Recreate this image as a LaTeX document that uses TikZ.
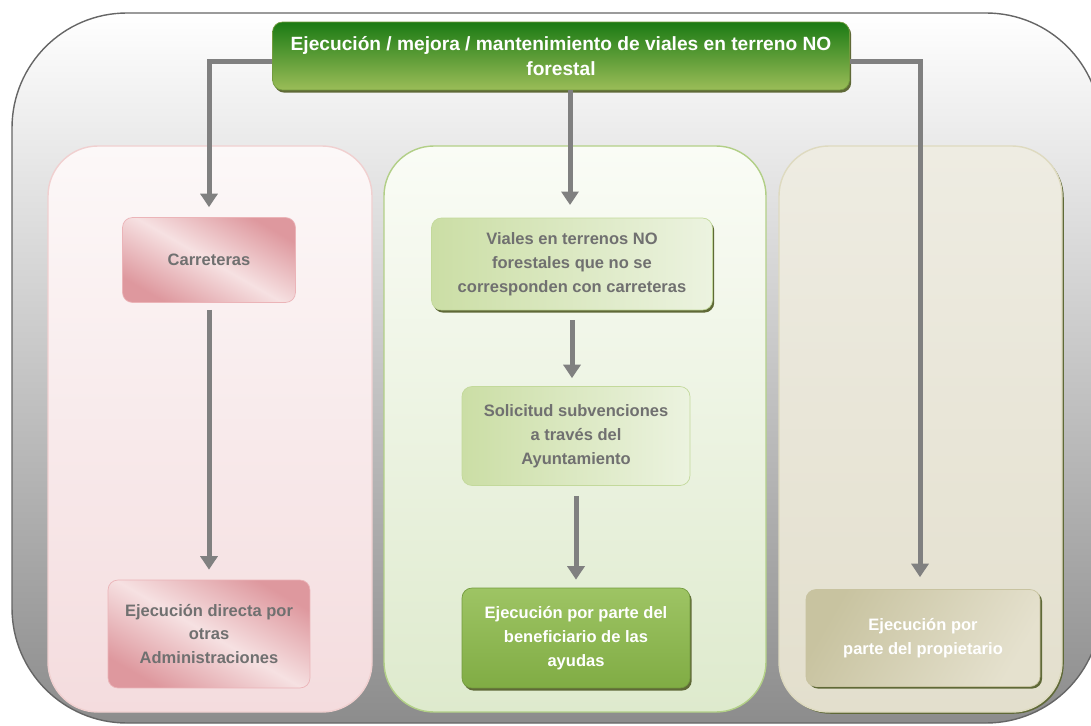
\documentclass[tikz,border=0pt]{standalone}
\usepackage{fontspec}
\setmainfont{Liberation Sans}
\usetikzlibrary{arrows.meta,shadows}

\definecolor{flowgray}{RGB}{128,128,128}
\definecolor{boxtext}{RGB}{112,112,112}
\definecolor{pinkedge}{RGB}{240,208,208}
\definecolor{pinktop}{RGB}{252,248,248}
\definecolor{pinkbot}{RGB}{244,220,222}
\definecolor{pinkdark}{RGB}{222,152,158}
\definecolor{pinklight}{RGB}{246,225,226}
\definecolor{pinkline}{RGB}{235,180,184}
\definecolor{greenedge}{RGB}{178,207,135}
\definecolor{greentop}{RGB}{250,252,246}
\definecolor{greenbot}{RGB}{222,234,205}
\definecolor{greenmid}{RGB}{203,222,165}
\definecolor{greenpale}{RGB}{236,243,224}
\definecolor{greenline}{RGB}{195,217,155}
\definecolor{leafdark}{RGB}{27,122,20}
\definecolor{leaflight}{RGB}{155,189,88}
\definecolor{leafup}{RGB}{158,196,100}
\definecolor{leafdown}{RGB}{128,172,68}
\definecolor{leafline}{RGB}{115,155,62}
\definecolor{beigeedge}{RGB}{222,218,192}
\definecolor{beigetop}{RGB}{238,236,226}
\definecolor{beigebot}{RGB}{227,223,205}
\definecolor{sandlight}{RGB}{229,225,206}
\definecolor{sanddark}{RGB}{200,195,160}
\definecolor{olive}{RGB}{95,105,55}

\begin{document}
\begin{tikzpicture}[x=0.02cm, y=-0.02cm,
  every node/.style={align=center, font=\fontsize{9.4}{13.6}\selectfont\bfseries, text=boxtext, rounded corners=0.2cm},
  topbox/.style={draw=leafline, top color=leafdark, bottom color=leaflight, text=white,
    font=\fontsize{10.9}{14.5}\selectfont\bfseries,
    drop shadow={shadow xshift=1pt, shadow yshift=-1.5pt, fill=olive, opacity=1}},
  pinkbox/.style={draw=pinkline, top color=pinkdark, bottom color=pinkdark, middle color=pinklight, shading angle=-30},
  greenbox/.style={draw=greenline, left color=greenmid, right color=greenpale},
  leafbox/.style={draw=leafline, top color=leafup, bottom color=leafdown, text=white,
    drop shadow={shadow xshift=1pt, shadow yshift=-1.5pt, fill=olive, opacity=1}},
  sandbox/.style={draw=sanddark, left color=sanddark, right color=sandlight, shading angle=60, text=white,
    drop shadow={shadow xshift=1.2pt, shadow yshift=-1.2pt, fill=olive, opacity=1}},
  flow/.style={draw=flowgray, line width=0.1cm, -{Triangle[width=0.34cm,length=0.27cm]}}]
\useasboundingbox (0,0) rectangle (1091,726);

% background and columns
\draw[rounded corners=2.3cm, draw=black!60, line width=0.8pt, top color=white, middle color=black!6, bottom color=black!45] (12,13) rectangle (1101,723);
\draw[rounded corners=1cm, draw=pinkedge, line width=0.8pt, top color=pinktop, bottom color=pinkbot] (48,146) rectangle (372,712);
\draw[rounded corners=1cm, draw=greenedge, line width=0.8pt, top color=greentop, bottom color=greenbot] (384,146) rectangle (766,712);
\draw[rounded corners=1cm, draw=beigeedge, line width=0.8pt, top color=beigetop, bottom color=beigebot,
  drop shadow={shadow xshift=1pt, shadow yshift=-1pt, fill=olive, opacity=1}] (779,146) rectangle (1062,712);

% boxes
\node[topbox, minimum width=11.54cm, minimum height=1.36cm] (top) at (561,56) {Ejecución / mejora / mantenimiento de viales en terreno NO\\forestal};
\node[pinkbox, minimum width=3.46cm, minimum height=1.7cm] (carr) at (209,260) {Carreteras};
\node[pinkbox, minimum width=4.04cm, minimum height=2.16cm] (admin) at (209,634) {Ejecución directa por\\otras\\Administraciones};
\node[greenbox, minimum width=5.62cm, minimum height=1.84cm, drop shadow={shadow xshift=1pt, shadow yshift=-1.5pt, fill=olive, opacity=1}] (viales) at (572,264) {Viales en terrenos NO\\forestales que no se\\corresponden con carreteras};
\node[greenbox, minimum width=4.56cm, minimum height=1.98cm] (solic) at (576,436) {Solicitud subvenciones\\a través del\\Ayuntamiento};
\node[leafbox, minimum width=4.56cm, minimum height=2cm] (benef) at (576,638) {Ejecución por parte del\\beneficiario de las\\ayudas};
\node[sandbox, minimum width=4.68cm, minimum height=1.94cm] (prop) at (923,638) {Ejecución por\\parte del propietario};
\coordinate (mid) at (570,205);

% connectors
\draw[flow, shorten >=0.2cm] ([yshift=-0.12cm]top.west) -| (carr.north);
\draw[flow] (top.south -| mid) -- (mid);
\draw[flow, shorten >=0.24cm] ([yshift=-0.12cm]top.east) -| ([xshift=-0.06cm]prop.north);
\draw[flow, shorten <=0.14cm, shorten >=0.2cm] (carr) -- (admin);
\draw[flow, shorten <=0.2cm, shorten >=0.16cm] (viales) -- (viales |- solic.north);
\draw[flow, shorten <=0.2cm, shorten >=0.16cm] (solic) -- (benef);
\end{tikzpicture}
\end{document}
